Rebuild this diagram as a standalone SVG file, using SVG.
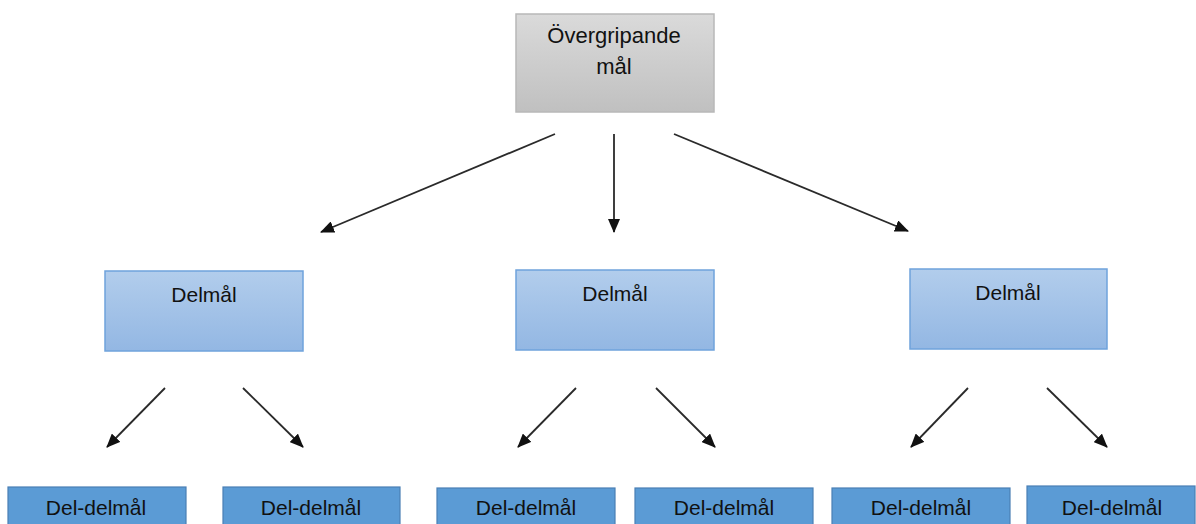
<svg xmlns="http://www.w3.org/2000/svg" width="1196" height="524" viewBox="0 0 1196 524">
<style>
.lbl{font-family:"Liberation Sans","Open Sans",Arial,sans-serif;fill:#111;text-anchor:middle}
.top{fill:url(#gGray);stroke:#b8b8b8;stroke-width:1.5}
.mid{fill:url(#gBlue);stroke:#6fa3dc;stroke-width:1.5}
.bot{fill:#5b9bd5;stroke:#4a7fb5;stroke-width:1.2}
.con{stroke:#2a2a2a;stroke-width:1.8;fill:none;marker-end:url(#ah)}
</style>
<defs>
<linearGradient id="gGray" x1="0" y1="0" x2="0" y2="1">
<stop offset="0" stop-color="#dadada"/>
<stop offset="1" stop-color="#c0c0c0"/>
</linearGradient>
<linearGradient id="gBlue" x1="0" y1="0" x2="0" y2="1">
<stop offset="0" stop-color="#b2cdec"/>
<stop offset="1" stop-color="#93b7e3"/>
</linearGradient>
<marker id="ah" markerUnits="userSpaceOnUse" markerWidth="14" markerHeight="12" viewBox="0 0 14 12" refX="13" refY="6" orient="auto">
<path d="M0,0 L14,6 L0,12 Z" fill="#111"/>
</marker>
</defs>
<g id="n-top">
<rect class="top" x="516" y="14" width="198" height="98"/>
<text class="lbl" x="614" y="43" font-size="22">Övergripande</text>
<text class="lbl" x="614" y="74" font-size="22">mål</text>
</g>
<g id="n-d1"><rect class="mid" x="105" y="271" width="198" height="80"/><text class="lbl" x="204" y="302" font-size="21">Delmål</text></g>
<g id="n-d2"><rect class="mid" x="516" y="270" width="198" height="80"/><text class="lbl" x="615" y="301" font-size="21">Delmål</text></g>
<g id="n-d3"><rect class="mid" x="910" y="269" width="197" height="80"/><text class="lbl" x="1008" y="300" font-size="21">Delmål</text></g>
<g id="n-dd1"><rect class="bot" x="8" y="487" width="178" height="45"/><text class="lbl" x="96" y="515" font-size="21">Del-delmål</text></g>
<g id="n-dd2"><rect class="bot" x="223" y="487" width="177" height="45"/><text class="lbl" x="311" y="515" font-size="21">Del-delmål</text></g>
<g id="n-dd3"><rect class="bot" x="437" y="488" width="178" height="45"/><text class="lbl" x="526" y="515" font-size="21">Del-delmål</text></g>
<g id="n-dd4"><rect class="bot" x="635" y="488" width="178" height="45"/><text class="lbl" x="724" y="515" font-size="21">Del-delmål</text></g>
<g id="n-dd5"><rect class="bot" x="832" y="488" width="178" height="45"/><text class="lbl" x="921" y="515" font-size="21">Del-delmål</text></g>
<g id="n-dd6"><rect class="bot" x="1027" y="486" width="168" height="45"/><text class="lbl" x="1112" y="515" font-size="21">Del-delmål</text></g>
<g id="connectors">
<line class="con" x1="555" y1="134" x2="321" y2="232"/>
<line class="con" x1="614" y1="134" x2="614" y2="232"/>
<line class="con" x1="674" y1="134" x2="908" y2="231"/>
<line class="con" x1="165" y1="388" x2="107" y2="447"/>
<line class="con" x1="243" y1="388" x2="303" y2="447"/>
<line class="con" x1="576" y1="388" x2="518" y2="447"/>
<line class="con" x1="656" y1="388" x2="715" y2="447"/>
<line class="con" x1="968" y1="388" x2="911" y2="447"/>
<line class="con" x1="1047" y1="388" x2="1107" y2="447"/>
</g>
</svg>
